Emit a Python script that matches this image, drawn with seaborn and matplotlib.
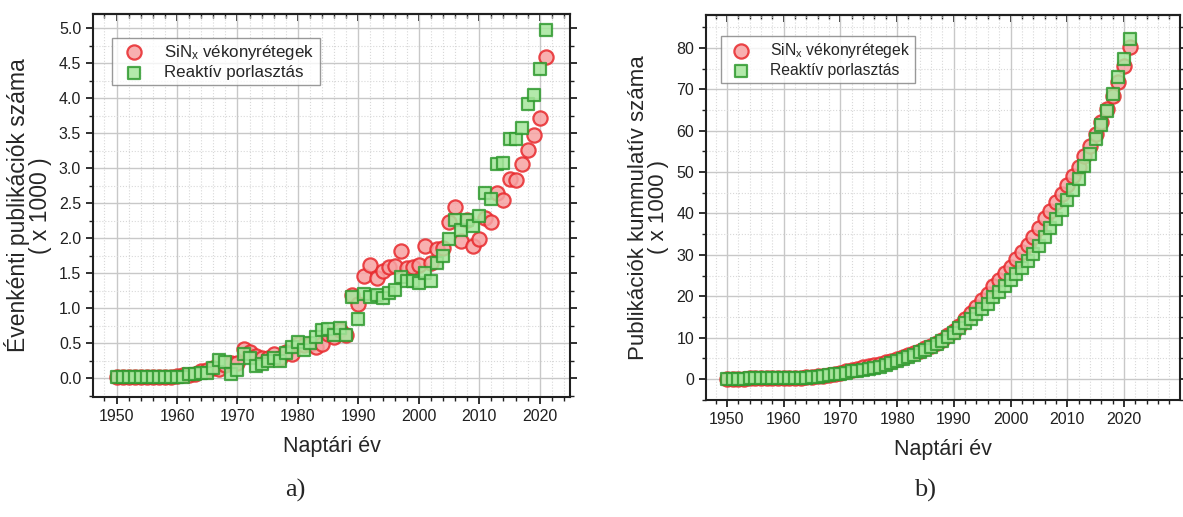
import seaborn as sns
import matplotlib.pyplot as plt
import matplotlib.ticker as mticker
import pandas as pd

# Adatok (ezer publikacio / ev), leolvasva az abrarol
evek = list(range(1950, 2022))

sinx_evi = [0.01, 0.01, 0.01, 0.01, 0.01, 0.01, 0.02, 0.02, 0.02, 0.02,
            0.03, 0.04, 0.05, 0.06, 0.10, 0.11, 0.15, 0.13, 0.18, 0.21,
            0.21, 0.42, 0.37, 0.31, 0.28, 0.29, 0.34, 0.29, 0.37, 0.35,
            0.49, 0.47, 0.49, 0.44, 0.49, 0.63, 0.58, 0.68, 0.62, 1.19,
            1.06, 1.46, 1.61, 1.43, 1.53, 1.58, 1.60, 1.82, 1.57, 1.58,
            1.61, 1.89, 1.64, 1.84, 1.86, 2.23, 2.45, 1.96, 2.26, 1.89,
            1.98, 2.28, 2.23, 2.65, 2.54, 2.85, 2.83, 3.06, 3.26, 3.47,
            3.71, 4.59]

reakt_evi = [0.01, 0.01, 0.01, 0.01, 0.01, 0.01, 0.01, 0.01, 0.01, 0.01,
             0.01, 0.01, 0.06, 0.06, 0.07, 0.07, 0.15, 0.26, 0.23, 0.06,
             0.12, 0.35, 0.28, 0.17, 0.20, 0.25, 0.28, 0.24, 0.36, 0.44,
             0.51, 0.40, 0.50, 0.58, 0.68, 0.70, 0.61, 0.72, 0.61, 1.16,
             0.85, 1.20, 1.16, 1.18, 1.14, 1.21, 1.26, 1.45, 1.39, 1.39,
             1.36, 1.50, 1.39, 1.64, 1.74, 1.99, 2.26, 2.11, 2.26, 2.17,
             2.31, 2.65, 2.56, 3.06, 3.07, 3.42, 3.42, 3.57, 3.91, 4.05,
             4.42, 4.97]

# Kumulativ (ezer), leolvasva az abrarol
sinx_kum = [0.0, 0.0, 0.0, 0.0, 0.1, 0.1, 0.1, 0.1, 0.1, 0.1,
            0.2, 0.2, 0.3, 0.3, 0.4, 0.5, 0.7, 0.8, 1.0, 1.2,
            1.4, 1.8, 2.2, 2.5, 2.8, 3.1, 3.4, 3.7, 4.1, 4.4,
            4.9, 5.4, 5.9, 6.3, 6.8, 7.4, 8.0, 8.7, 9.3, 10.5,
            11.5, 12.9, 14.5, 15.9, 17.4, 19.0, 20.6, 22.4, 23.9, 25.5,
            27.1, 29.0, 30.6, 32.4, 34.2, 36.4, 38.8, 40.7, 42.9, 44.8,
            46.8, 49.0, 51.3, 53.9, 56.4, 59.3, 62.1, 65.2, 68.4, 71.9,
            75.6, 80.2]

reakt_kum = [0.0, 0.0, 0.0, 0.0, 0.1, 0.1, 0.1, 0.1, 0.1, 0.1,
             0.1, 0.1, 0.2, 0.2, 0.3, 0.4, 0.5, 0.8, 1.0, 1.1,
             1.2, 1.5, 1.8, 2.0, 2.2, 2.4, 2.7, 3.0, 3.3, 3.8,
             4.3, 4.7, 5.2, 5.8, 6.4, 7.1, 7.7, 8.5, 9.1, 10.2,
             11.1, 12.3, 13.4, 14.6, 15.8, 17.0, 18.2, 19.7, 21.1, 22.5,
             23.8, 25.3, 26.7, 28.4, 30.1, 32.1, 34.3, 36.5, 38.7, 40.9,
             43.2, 45.8, 48.4, 51.5, 54.5, 57.9, 61.4, 64.9, 68.8, 72.9,
             77.3, 82.3]

df = pd.DataFrame({"ev": evek, "sinx_evi": sinx_evi, "reakt_evi": reakt_evi,
                   "sinx_kum": sinx_kum, "reakt_kum": reakt_kum})

sns.set_style("white")
plt.rcParams['font.family'] = ['Liberation Sans', 'DejaVu Sans']
plt.rcParams['mathtext.fontset'] = 'custom'
plt.rcParams['mathtext.rm'] = 'Liberation Sans'
plt.rcParams['mathtext.it'] = 'Liberation Sans'

piros_lap, piros_el = "#f7a3a3", "#e8282c"
zold_lap, zold_el = "#a6e69c", "#2f9a2f"

fig = plt.figure(figsize=(11.83, 5.17), dpi=100)
ax1 = fig.add_axes([0.0786, 0.2321, 0.4032, 0.7408])
ax2 = fig.add_axes([0.5968, 0.2263, 0.4007, 0.7447])


def rajzol(ax, col_r, col_g):
    sns.scatterplot(x="ev", y=col_r, data=df, ax=ax, marker="o", s=105,
                    color=piros_lap, edgecolor=piros_el, linewidth=1.6,
                    alpha=0.85, label=r"SiN$_\mathrm{x}$ vékonyrétegek", zorder=3)
    sns.scatterplot(x="ev", y=col_g, data=df, ax=ax, marker="s", s=68,
                    color=zold_lap, edgecolor=zold_el, linewidth=1.6,
                    alpha=0.85, label="Reaktív porlasztás", zorder=4)


rajzol(ax1, "sinx_evi", "reakt_evi")
rajzol(ax2, "sinx_kum", "reakt_kum")

ax1.set_xlim(1946.1, 2025)
ax1.set_ylim(-0.27, 5.2)
ax1.yaxis.set_major_locator(mticker.MultipleLocator(0.5))
ax1.yaxis.set_minor_locator(mticker.MultipleLocator(0.25))
ax1.yaxis.set_major_formatter(mticker.FormatStrFormatter('%.1f'))
ax1.set_ylabel("Évenkénti publikációk száma\n( x 1000 )", fontsize=16.5,
               linespacing=0.95, labelpad=5)

ax2.set_xlim(1946.3, 2029.9)
ax2.set_ylim(-5.1, 88)
ax2.yaxis.set_major_locator(mticker.MultipleLocator(10))
ax2.yaxis.set_minor_locator(mticker.MultipleLocator(5))
ax2.set_ylabel("Publikációk kummulatív száma\n( x 1000 )", fontsize=16,
               linespacing=0.95, labelpad=5)

for ax, lfs, anchor in ((ax1, 12.2, (0.022, 0.96)), (ax2, 11.3, (0.015, 0.965))):
    ax.xaxis.set_major_locator(mticker.MultipleLocator(10))
    ax.xaxis.set_minor_locator(mticker.MultipleLocator(2))
    ax.grid(which='major', color='#c8c8c8', linewidth=1.0, linestyle='-')
    ax.grid(which='minor', color='#d8d8d8', linewidth=0.8, linestyle=':')
    ax.set_axisbelow(True)
    for sp in ax.spines.values():
        sp.set_color('#202020')
        sp.set_linewidth(1.5)
    ax.tick_params(axis='both', which='major', direction='out', length=5, width=1.3,
                   labelsize=11.5, left=True, bottom=True, right=True, colors='#202020')
    ax.tick_params(axis='both', which='minor', direction='out', length=3, width=1.0,
                   left=True, bottom=True, right=True, colors='#202020')
    ax.tick_params(axis='x', which='both', top=False)
    felso = ax.secondary_xaxis('top')
    felso.xaxis.set_major_locator(mticker.MultipleLocator(10))
    felso.xaxis.set_minor_locator(mticker.MultipleLocator(2))
    felso.tick_params(which='major', direction='in', length=5, width=1.3,
                      top=True, labeltop=False, colors='#202020')
    felso.tick_params(which='minor', direction='in', length=3, width=1.0,
                      top=True, colors='#202020')
    felso.spines['top'].set_linewidth(1.5)
    ax.set_xlabel("Naptári év", fontsize=15.5, labelpad=9)
    leg = ax.legend(loc='upper left', fontsize=lfs, frameon=True, fancybox=False,
                    edgecolor='#808080', borderpad=0.3, handletextpad=0.8,
                    labelspacing=0.2, bbox_to_anchor=anchor)
    leg.get_frame().set_linewidth(1.0)

fig.text(0.25, 0.052, "a)", fontsize=19, family='Liberation Serif', ha='center', va='center')
fig.text(0.782, 0.052, "b)", fontsize=19, family='Liberation Serif', ha='center', va='center')

fig.savefig("out.png", dpi=100)
